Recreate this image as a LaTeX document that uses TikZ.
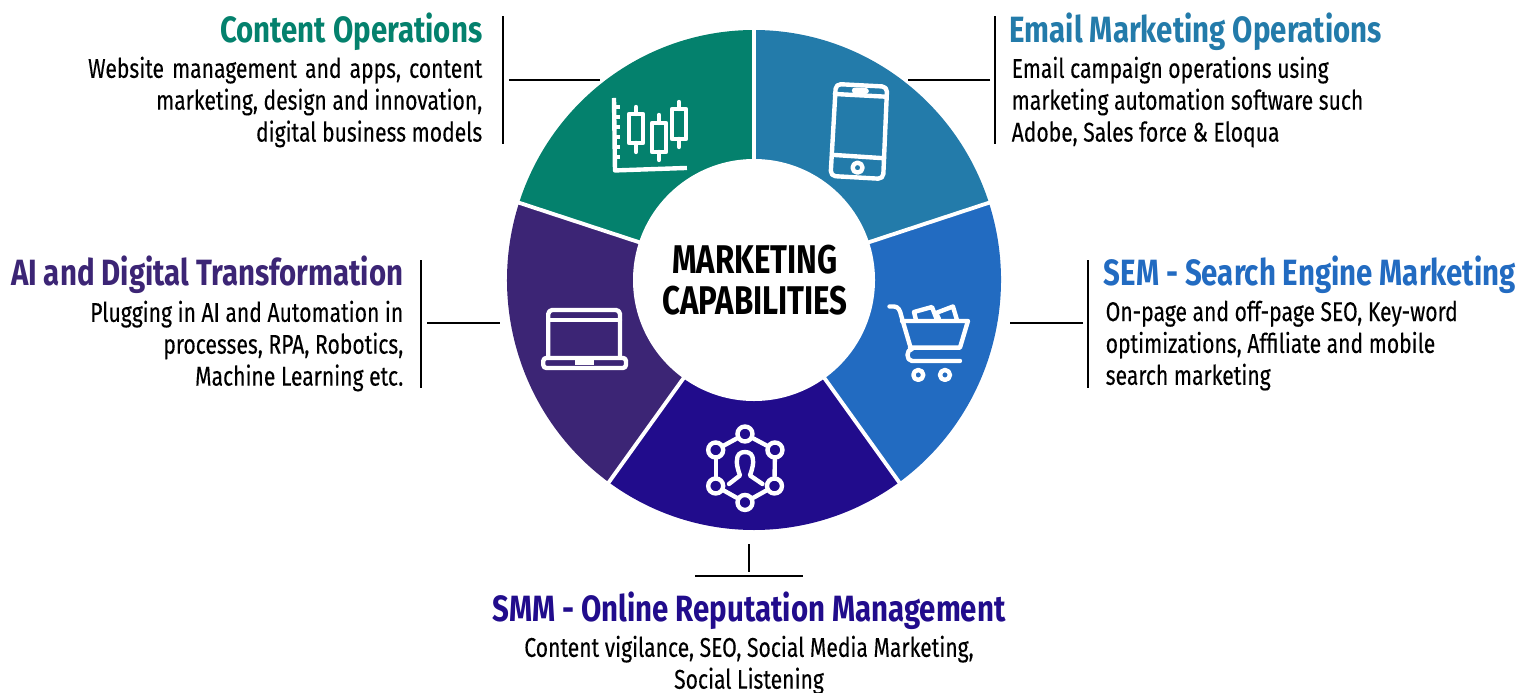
\documentclass[tikz,border=0pt]{standalone}
\usepackage{fontspec}
\newfontfamily\headfont[FakeStretch=.805]{Fira Sans}
\newfontfamily\capfont[FakeStretch=.78]{Fira Sans}
\setmainfont[FakeStretch=.78,FakeBold=.2]{Fira Sans}
\definecolor{contentgreen}{HTML}{04816D}
\definecolor{emailblue}{HTML}{237BAA}
\definecolor{semblue}{HTML}{226BC1}
\definecolor{smmblue}{HTML}{210C8C}
\definecolor{aipurple}{HTML}{3C2575}
\tikzset{
	headtext/.style={inner sep=0pt,font=\headfont\bfseries\fontsize{10.4}{12}\selectfont},
	bodytext/.style={inner sep=0pt,font=\fontsize{7.7}{9.07}\selectfont},
	leader/.style={black,line width=.7pt},
	iconline/.style={white,line width=1.25pt,line join=round,line cap=round},
	hubdot/.style={circle,draw=white,line width=1.25pt,minimum size=.15cm,inner sep=0pt}
}
\begin{document}
\begin{tikzpicture}
	\useasboundingbox (0,0) rectangle (15.36,6.92);
	% wheel
	\coordinate (hub) at (7.54,4.12);
	\begin{scope}[shift={(hub)},xscale=.988]
		\foreach \from/\to/\col in {18/90/emailblue,-54/18/semblue,-126/-54/smmblue,162/234/aipurple,90/162/contentgreen}
			\fill [\col] (0,0) -- (\from:2.5) arc (\from:\to:2.5) -- cycle;
		\foreach \ang in {90,18,-54,-126,162}
			\draw [white,line width=1.1pt] (0,0) -- (\ang:2.55);
	\end{scope}
	\node [circle,fill=white,minimum size=2.42cm,inner sep=0pt] (centre) at (hub) {};
	\node [align=center,inner sep=0pt,font=\capfont\bfseries\fontsize{11.4}{11.6}\selectfont] (capabilities) at (7.55,4.12) {MARKETING\\CAPABILITIES};
	% leaders
	\coordinate (contentTop) at (5.03,6.76);
	\coordinate (contentEnd) at (5.03,5.48);
	\coordinate (contentIn) at (5.09,6.12);
	\coordinate (contentOut) at (6.00,6.12);
	\coordinate (emailTop) at (9.95,6.76);
	\coordinate (emailEnd) at (9.95,5.48);
	\coordinate (emailIn) at (9.90,6.12);
	\coordinate (emailOut) at (9.08,6.12);
	\coordinate (semTop) at (10.88,4.32);
	\coordinate (semEnd) at (10.88,3.04);
	\coordinate (semIn) at (10.83,3.69);
	\coordinate (semOut) at (10.10,3.69);
	\coordinate (aiTop) at (4.21,4.32);
	\coordinate (aiEnd) at (4.21,3.04);
	\coordinate (aiIn) at (4.27,3.69);
	\coordinate (aiOut) at (5.00,3.69);
	\coordinate (smmTop) at (7.49,1.48);
	\coordinate (smmEnd) at (7.49,1.20);
	\coordinate (smmLeft) at (6.95,1.16);
	\coordinate (smmRight) at (8.03,1.16);
	\foreach \a/\b in {contentTop/contentEnd,contentIn/contentOut,emailTop/emailEnd,emailIn/emailOut,semTop/semEnd,semIn/semOut,aiTop/aiEnd,aiIn/aiOut,smmTop/smmEnd,smmLeft/smmRight}
		\draw [leader] (\a) -- (\b);
	% texts
	\node [headtext,anchor=east,text=contentgreen] (contentHead) at (4.83,6.60) {Content Operations};
	\node [bodytext,anchor=north east,align=right] (contentBody) at (4.83,6.36) {Website\hspace{.7pt} management\hspace{.7pt} and\hspace{.7pt} apps,\hspace{.7pt} content\\marketing, design and innovation,\\digital business models};
	\node [headtext,anchor=west,text=emailblue] (emailHead) at (10.09,6.60) {Email Marketing Operations};
	\node [bodytext,anchor=north west,align=left] (emailBody) at (10.11,6.36) {Email campaign operations using\\marketing automation software such\\Adobe, Sales force \& Eloqua};
	\node [headtext,anchor=west,text=semblue] (semHead) at (11.03,4.17) {SEM - Search Engine Marketing};
	\node [bodytext,anchor=north west,align=left] (semBody) at (11.05,3.92) {On-page and off-page SEO, Key-word\\optimizations, Affiliate and mobile\\search marketing};
	\node [headtext,anchor=east,text=aipurple] (aiHead) at (4.04,4.17) {AI and Digital Transformation};
	\node [bodytext,anchor=north east,align=right] (aiBody) at (4.04,3.92) {Plugging in AI and Automation in\\processes, RPA, Robotics,\\Machine Learning etc.};
	\node [headtext,anchor=center,text=smmblue] (smmHead) at (7.49,.81) {SMM - Online Reputation Management};
	\node [bodytext,anchor=north,align=center] (smmBody) at (7.49,.57) {Content vigilance, SEO, Social Media Marketing,\\Social Listening};
	% chart and phone
	\begin{scope}[shift={(5.90,6.22)},x=.01cm,y=-.01cm]
		\draw [iconline,line cap=butt] (24,28) -- (25,100.5) -- (97,98);
		\foreach \y in {37,47,57,67,77,87}
			\draw [iconline,line cap=butt] (24.5,\y) -- (30,\y);
		\draw [iconline] (39,44) rectangle (53,73);
		\draw [iconline] (46,37) -- (46,44) (46,73) -- (46,82);
		\draw [iconline] (62,53) rectangle (76,82);
		\draw [iconline] (69,45) -- (69,53) (69,82) -- (69,90);
		\draw [iconline] (82,39) rectangle (96,69);
		\draw [iconline] (89,32) -- (89,39) (89,69) -- (89,77);
		\draw [iconline,rounded corners=.5mm] (246,14) -- (297.3,16.7) -- (293.3,109) -- (240.7,106) -- cycle;
		\draw [iconline] (245,24) -- (296,26.7);
		\draw [iconline] (244.3,85) -- (294.3,88.3);
		\draw [iconline,line width=1.7pt] (265,20.5) -- (276,21);
		\draw [iconline] (267.7,97.7) circle (5);
	\end{scope}
	% laptop
	\begin{scope}[shift={(5.30,4.02)},x=.01cm,y=-.01cm]
		\draw [iconline,rounded corners=.4mm] (18.3,67) -- (18.3,20) -- (90,20) -- (90,67);
		\draw [iconline] (18.3,30) -- (90,30);
		\draw [iconline,rounded corners=.3mm] (13.3,68) rectangle (96,78);
		\fill [white] (45,70) rectangle (64,75);
	\end{scope}
	% cart
	\begin{scope}[shift={(8.80,3.97)},x=.01cm,y=-.01cm]
		\draw [iconline] (9.5,11.5) -- (14,11.5) to[out=0,in=100] (21,20) -- (30.7,53);
		\draw [iconline] (22,26) -- (88,26) -- (80,52.7) -- (30,52.7);
		\draw [iconline] (32,54) to[out=180,in=90] (27.5,60) to[out=-90,in=180] (32,66) -- (80,66);
		\draw [iconline] (38.3,80) circle (5);
		\draw [iconline] (65,80) circle (5);
		\draw [iconline] (36,25) -- (34,17) -- (52,12) -- (57,25);
		\draw [iconline] (59,24) -- (56,18) -- (73,11.5) -- (77,25);
	\end{scope}
	% network
	\begin{scope}[shift={(6.95,2.77)},x=.01cm,y=-.01cm]
		\node [hubdot] (peerA) at (50,19) {};
		\node [hubdot] (peerB) at (80,35) {};
		\node [hubdot] (peerC) at (79.5,71) {};
		\node [hubdot] (peerD) at (50,87.5) {};
		\node [hubdot] (peerE) at (20.7,71) {};
		\node [hubdot] (peerF) at (20.7,35) {};
		\foreach \a/\b in {peerA/peerB,peerB/peerC,peerC/peerD,peerD/peerE,peerE/peerF,peerF/peerA}
			\draw [iconline] (\a) -- (\b);
		\draw [iconline] (34,69) -- (45,60.5) .. controls (42,52) and (41.5,48) .. (42,45) .. controls (42,40) and (45,37) .. (50,37) .. controls (55,37) and (58,40) .. (58,45) .. controls (58.5,48) and (58,52) .. (55,60.5) -- (67.5,69);
	\end{scope}
\end{tikzpicture}
\end{document}
